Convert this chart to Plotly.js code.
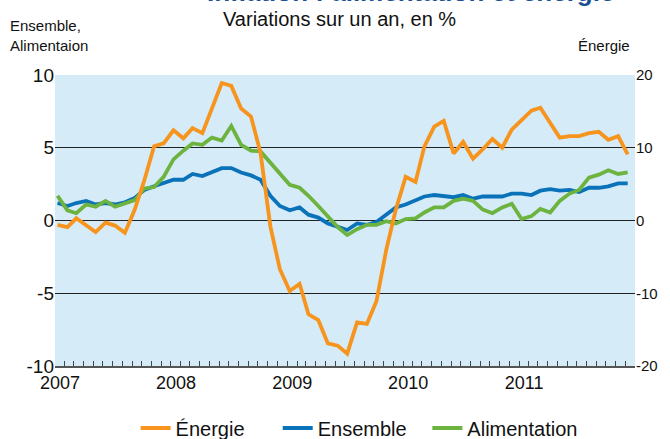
<!DOCTYPE html>
<html>
<head>
<meta charset="utf-8">
<script src="https://cdn.plot.ly/plotly-3.0.1.min.js"></script>
<style>html,body{margin:0;padding:0;background:#fff}#chart{width:670px;height:439px}</style>
</head>
<body>
<div id="chart"></div>
<script>
// Monthly data, Jan 2007 - Dec 2011 (year-on-year change, %)
const years = [2007, 2008, 2009, 2010, 2011];
const yearLabels = ['2007', '2008', '2009', '2010', '2011'];

const energie = [
  -0.6, -0.9, 0.3, -0.6, -1.6, -0.3, -0.7, -1.7, 1.5, 5.5, 10.2, 10.6,
  12.4, 11.3, 12.7, 12.0, 15.5, 18.9, 18.5, 15.4, 14.3, 9.3, -0.8, -6.7,
  -9.7, -8.7, -12.9, -13.7, -16.9, -17.2, -18.3, -14.0, -14.2, -11.1, -4.0, 1.5,
  6.0, 5.3, 10.2, 12.9, 13.7, 9.2, 10.8, 8.5, 9.8, 11.2, 10.0, 12.5,
  13.8, 15.1, 15.5, 13.5, 11.4, 11.6, 11.6, 12.0, 12.2, 11.1, 11.6, 9.1
];
const ensemble = [
  1.2, 1.0, 1.2, 1.35, 1.1, 1.2, 1.1, 1.25, 1.55, 2.1, 2.35, 2.6,
  2.8, 2.8, 3.2, 3.05, 3.3, 3.6, 3.6, 3.3, 3.1, 2.8, 1.7, 1.0,
  0.7, 0.9, 0.4, 0.2, -0.2, -0.4, -0.65, -0.2, -0.3, -0.1, 0.4, 0.9,
  1.1, 1.4, 1.65, 1.75, 1.7, 1.6, 1.75, 1.5, 1.65, 1.65, 1.65, 1.85,
  1.85, 1.75, 2.05, 2.15, 2.05, 2.1, 1.95, 2.25, 2.25, 2.35, 2.55, 2.55
];
const alimentation = [
  1.7, 0.7, 0.5, 1.1, 0.95, 1.35, 0.95, 1.2, 1.4, 2.2, 2.3, 3.0,
  4.2, 4.8, 5.3, 5.2, 5.7, 5.5, 6.5, 5.2, 4.8, 4.75, 3.95, 3.2,
  2.45, 2.25, 1.7, 1.0, 0.3, -0.45, -1.0, -0.6, -0.3, -0.3, -0.05, -0.2,
  0.1, 0.15, 0.55, 0.9, 0.9, 1.35, 1.5, 1.35, 0.75, 0.5, 0.9, 1.15,
  0.1, 0.3, 0.8, 0.55, 1.35, 1.85, 2.1, 2.95, 3.15, 3.45, 3.2, 3.3
];

const pad = n => String(n).padStart(2, '0');
const months = [];
const monthStarts = [];
const monthTickText = [];
years.forEach((y, k) => {
  for (let m = 1; m <= 12; m++) {
    months.push(`${y}-${pad(m)}-09`);
    monthStarts.push(`${y}-${pad(m)}-01`);
    monthTickText.push(m === 1 ? yearLabels[k] : '');
  }
});
monthStarts.push('2012-01-01');
monthTickText.push('');

const FONT = 'Liberation Sans, Arial, sans-serif';
const C_EN = '#f7941d', C_ENS = '#0a72b9', C_AL = '#6db33f';

const traces = [
  {x: months, y: ensemble, name: 'Ensemble', type: 'scatter', mode: 'lines',
   line: {color: C_ENS, width: 3.8}, yaxis: 'y', legend: 'legend2'},
  {x: months, y: alimentation, name: 'Alimentation', type: 'scatter', mode: 'lines',
   line: {color: C_AL, width: 3.8}, yaxis: 'y', legend: 'legend3'},
  {x: months, y: energie, name: 'Énergie', type: 'scatter', mode: 'lines',
   line: {color: C_EN, width: 3.8}, yaxis: 'y2', legend: 'legend'}
];

const legFont = {family: FONT, size: 20, color: '#111'};
const legBase = {orientation: 'h', xanchor: 'left', y: -0.213, yanchor: 'middle', font: legFont, bgcolor: 'rgba(0,0,0,0)'};

const layout = {
  width: 670, height: 439,
  margin: {l: 55, r: 35, t: 75, b: 73, autoexpand: false},
  paper_bgcolor: '#ffffff',
  plot_bgcolor: '#d5ebf8',
  font: {family: FONT, color: '#111', size: 15},
  showlegend: true,
  legend: Object.assign({}, legBase, {x: 0.139}),
  legend2: Object.assign({}, legBase, {x: 0.384}),
  legend3: Object.assign({}, legBase, {x: 0.642}),
  xaxis: {
    type: 'date', range: ['2007-01-01', '2012-01-01'],
    tickmode: 'array', tickvals: monthStarts, ticktext: monthTickText,
    ticks: 'inside', ticklen: 5, tickwidth: 1, tickcolor: '#444',
    ticklabelshift: 5,
    tickfont: {family: FONT, size: 18, color: '#111'},
    showgrid: false, zeroline: false,
    showline: true, linecolor: '#555', linewidth: 1.5,
    fixedrange: true
  },
  yaxis: {
    range: [-10, 10], tickvals: [-10, -5, 0, 5, 10], ticktext: ['-10', '-5', '0', '5', '10'],
    showgrid: true, gridcolor: '#222', gridwidth: 1.3, zeroline: false,
    ticks: '', tickfont: {family: FONT, size: 19, color: '#111'}, showline: false,
    fixedrange: true
  },
  yaxis2: {
    range: [-20, 20], tickvals: [-20, -10, 0, 10, 20], ticktext: ['-20', '-10', '0', '10', '20'],
    overlaying: 'y', side: 'right', showgrid: false, zeroline: false,
    ticks: '', tickfont: {family: FONT, size: 15, color: '#111'}, showline: false,
    fixedrange: true
  },
  annotations: [
    {text: '<b>Inflation : alimentation et énergie</b>', xref: 'paper', yref: 'paper', x: 0.612 * 670 / 580 - 55 / 580, y: 1.2255,
     xanchor: 'center', yanchor: 'bottom', showarrow: false, font: {family: FONT, size: 26, color: '#1b4f93'}},
    {text: 'Variations sur un an, en %', xref: 'paper', yref: 'paper', x: 0.491, y: 1.192,
     xanchor: 'center', yanchor: 'middle', showarrow: false, font: {family: FONT, size: 20, color: '#111'}},
    {text: 'Ensemble,<br>Alimentaion', xref: 'paper', yref: 'paper', x: -0.081, y: 1.137,
     xanchor: 'left', yanchor: 'middle', align: 'left', showarrow: false, font: {family: FONT, size: 15, color: '#111'}},
    {text: 'Énergie', xref: 'paper', yref: 'paper', x: 0.995, y: 1.103,
     xanchor: 'right', yanchor: 'middle', showarrow: false, font: {family: FONT, size: 15, color: '#111'}}
  ]
};

Plotly.newPlot('chart', traces, layout, {displayModeBar: false, staticPlot: true});
</script>
</body>
</html>
